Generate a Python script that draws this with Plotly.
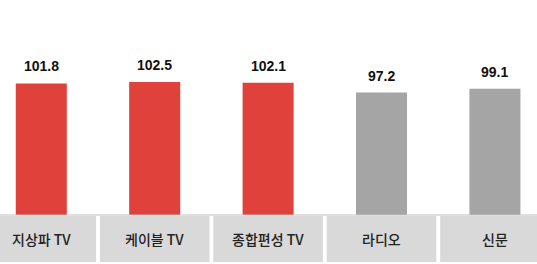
import plotly.graph_objects as go

categories = ["지상파 TV", "케이블 TV", "종합편성 TV", "라디오", "신문"]
values = [101.8, 102.5, 102.1, 97.2, 99.1]
bar_colors = ["#E0413A", "#E0413A", "#E0413A", "#A5A5A5", "#A5A5A5"]
value_labels = ["101.8", "102.5", "102.1", "97.2", "99.1"]

W, H = 537, 264
plot_bottom_margin = 49
plot_h = H - plot_bottom_margin
y_floor = 36

fig = go.Figure()
fig.add_trace(go.Bar(
    x=categories,
    y=values,
    marker=dict(color=bar_colors, line=dict(width=0)),
    width=0.45,
    hoverinfo="skip",
))

annotations = []
shapes = []
for i, (c, v, lab) in enumerate(zip(categories, values, value_labels)):
    annotations.append(dict(
        x=c, y=v, xref="x", yref="y", text=lab, showarrow=False,
        yanchor="middle", yshift=17,
        font=dict(family="Liberation Sans, Arial", size=14, color="#111111", weight="bold"),
    ))
    annotations.append(dict(
        x=c, y=(215 - 239) / plot_h, xref="x", yref="paper", text=c, showarrow=False,
        yanchor="middle",
        font=dict(family="Noto Sans CJK KR", size=14, color="#222222", weight=500),
    ))
    shapes.append(dict(
        type="rect", xref="x", yref="paper",
        x0=i - 0.483, x1=i + 0.483,
        y0=(215 - 262) / plot_h, y1=(215 - 216) / plot_h,
        fillcolor="#D9D9D9", line=dict(width=0), layer="below",
    ))

shapes.append(dict(
    type="line", xref="paper", yref="paper", x0=0, x1=1, y0=0, y1=0,
    line=dict(color="#BFBFBF", width=1),
))

fig.update_layout(
    width=W, height=H,
    margin=dict(l=0, r=0, t=0, b=plot_bottom_margin),
    paper_bgcolor="white", plot_bgcolor="white",
    showlegend=False,
    annotations=annotations,
    shapes=shapes,
    xaxis=dict(type="category", range=[-0.364, 4.371], showticklabels=False, showgrid=False,
               zeroline=False, showline=False, ticks=""),
    yaxis=dict(range=[y_floor, y_floor + plot_h / 2.0], showticklabels=False, showgrid=False,
               zeroline=False, showline=False, ticks=""),
)

fig.write_html("out.html")
